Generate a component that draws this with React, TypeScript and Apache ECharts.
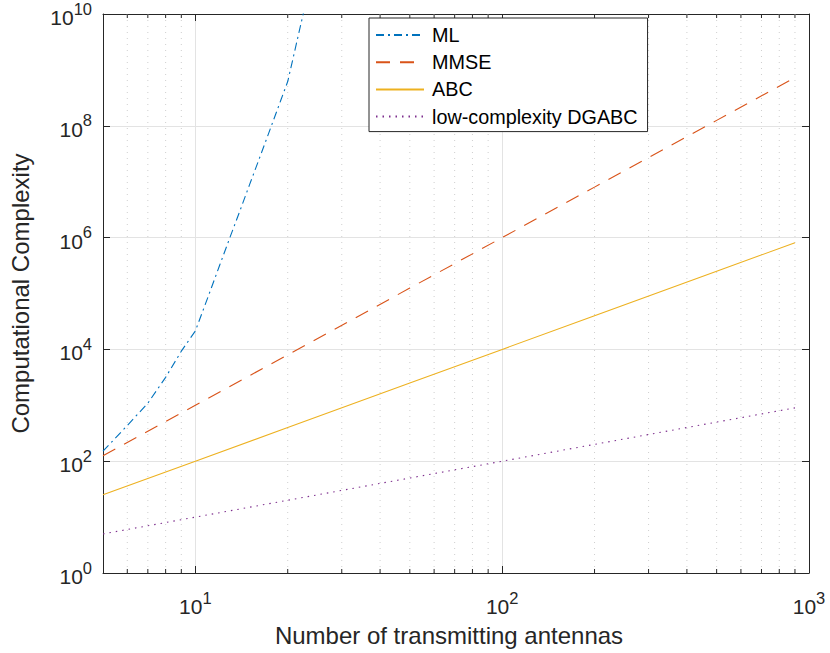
import React, { useEffect, useRef } from "react";
import * as echarts from "echarts";

// Number of transmitting antennas (x) and complexities
const mlN = [5, 6, 7, 8, 9, 10, 11, 12, 13, 14, 15, 16, 17, 18, 19, 20, 25];
const mlValues = [151, 436, 1090, 3160, 9300, 21400, 87000, 3.2e5, 1.05e6, 3.1e6, 8.7e6, 2.24e7, 5.5e7, 1.29e8, 2.9e8, 6.2e8, 1.3e11];

const linN = [5, 10, 20, 50, 100, 200, 500, 900];
const mmseValues = [125, 1000, 8000, 125000, 1e6, 8e6, 1.25e8, 7.29e8];
const abcValues = [25, 100, 400, 2500, 1e4, 4e4, 2.5e5, 8.1e5];
const dgabcValues = [5, 10, 20, 50, 100, 200, 500, 900];

const minorXTicks = [6, 7, 8, 9, 20, 30, 40, 50, 60, 70, 80, 90, 200, 300, 400, 500, 600, 700, 800, 900];

const seriesNames = ["ML", "MMSE", "ABC", "low-complexity DGABC"];
const colors = ["#0072BD", "#D95319", "#EDB120", "#7E2F8E"];

const AXIS = "#262626";
const FONT = "Liberation Sans, Arial, Helvetica, sans-serif";

const pairs = (xs: number[], ys: number[]) => xs.map((x, i) => [x, ys[i]]);

const expLabel = (v: number) => {
  const e = Math.round(Math.log10(v));
  return `{b|10}{e|${e}}`;
};

const richLabel = {
  b: { fontSize: 21, fontFamily: FONT, color: AXIS, verticalAlign: "bottom", lineHeight: 28 },
  e: { fontSize: 16.5, fontFamily: FONT, color: AXIS, verticalAlign: "top", lineHeight: 28 },
};

export default function App() {
  const ref = useRef<HTMLDivElement>(null);
  useEffect(() => {
    if (!ref.current) return;
    const chart = echarts.init(ref.current, undefined, { renderer: "svg" });
    const option: any = {
      animation: false,
      backgroundColor: "#fff",
      grid: { left: 94, right: 21, top: 12, bottom: 80, containLabel: false },
      legend: {
        data: seriesNames,
        orient: "vertical",
        left: 369,
        top: 18,
        padding: [7, 10, 5, 6],
        itemWidth: 48,
        itemHeight: 20,
        itemGap: 7.2,
        backgroundColor: "#fff",
        borderColor: AXIS,
        borderWidth: 1,
        borderRadius: 0,
        itemStyle: { opacity: 0, borderWidth: 0 },
        textStyle: { fontSize: 19.8, fontFamily: FONT, color: "#000", padding: [0, 0, 0, 3] },
      },
      xAxis: [
        {
          type: "log",
          min: 5,
          max: 1000,
          name: "Number of transmitting antennas",
          nameLocation: "middle",
          nameGap: 50,
          nameTextStyle: { fontSize: 24, fontFamily: FONT, color: AXIS, padding: [0, 14, 0, 0] },
          axisLine: { lineStyle: { color: AXIS, width: 1 } },
          axisTick: { inside: true, length: 7, lineStyle: { color: AXIS } },
          axisLabel: { formatter: expLabel, rich: richLabel, margin: 16, showMinLabel: false },
          splitLine: { show: true, lineStyle: { color: "#e3e3e3", width: 1 } },
        },
        {
          type: "log",
          min: 5,
          max: 1000,
          position: "top",
          axisLine: { lineStyle: { color: AXIS, width: 1 } },
          axisTick: { inside: true, length: 7, lineStyle: { color: AXIS } },
          axisLabel: { show: false },
          splitLine: { show: false },
        },
      ],
      yAxis: [
        {
          type: "log",
          min: 1,
          max: 1e10,
          interval: 2,
          name: "Computational Complexity",
          nameLocation: "middle",
          nameGap: 71,
          nameTextStyle: { fontSize: 24, fontFamily: FONT, color: AXIS },
          axisLine: { lineStyle: { color: AXIS, width: 1 } },
          axisTick: { inside: true, length: 7, lineStyle: { color: AXIS } },
          axisLabel: { formatter: expLabel, rich: richLabel, margin: 11 },
          splitLine: { show: true, lineStyle: { color: "#e3e3e3", width: 1 } },
        },
        {
          type: "log",
          min: 1,
          max: 1e10,
          interval: 2,
          position: "right",
          axisLine: { lineStyle: { color: AXIS, width: 1 } },
          axisTick: { inside: true, length: 7, lineStyle: { color: AXIS } },
          axisLabel: { show: false },
          splitLine: { show: false },
        },
      ],
      series: [
        {
          type: "custom",
          name: "minor",
          silent: true,
          z: 1,
          data: minorXTicks.map((v) => [v, 1]),
          renderItem: (params: any, api: any) => {
            const v = api.value(0);
            const top = api.coord([v, 1e10]);
            const bot = api.coord([v, 1]);
            return {
              type: "group",
              children: [
                {
                  type: "line",
                  shape: { x1: top[0], y1: top[1], x2: bot[0], y2: bot[1] },
                  style: { stroke: "#cfcfcf", lineWidth: 1, lineDash: [1, 5] },
                },
                {
                  type: "line",
                  shape: { x1: bot[0], y1: bot[1], x2: bot[0], y2: bot[1] - 4 },
                  style: { stroke: AXIS, lineWidth: 1 },
                },
                {
                  type: "line",
                  shape: { x1: top[0], y1: top[1], x2: top[0], y2: top[1] + 4 },
                  style: { stroke: AXIS, lineWidth: 1 },
                },
              ],
            };
          },
        },
        {
          name: "ML",
          type: "line",
          data: pairs(mlN, mlValues),
          showSymbol: false,
          symbol: "none",
          z: 3,
          lineStyle: { color: colors[0], width: 1.1, type: [8, 4, 2, 4] },
          itemStyle: { color: colors[0] },
        },
        {
          name: "MMSE",
          type: "line",
          data: pairs(linN, mmseValues),
          showSymbol: false,
          symbol: "none",
          z: 3,
          lineStyle: { color: colors[1], width: 1.1, type: [14, 10] },
          itemStyle: { color: colors[1] },
        },
        {
          name: "ABC",
          type: "line",
          data: pairs(linN, abcValues),
          showSymbol: false,
          symbol: "none",
          z: 3,
          lineStyle: { color: colors[2], width: 1.1, type: "solid" },
          itemStyle: { color: colors[2] },
        },
        {
          name: "low-complexity DGABC",
          type: "line",
          data: pairs(linN, dgabcValues),
          showSymbol: false,
          symbol: "none",
          z: 3,
          lineStyle: { color: colors[3], width: 1.1, type: [1.5, 5] },
          itemStyle: { color: colors[3] },
        },
      ],
    };
    chart.setOption(option);
    return () => chart.dispose();
  }, []);
  return (
    <div
      ref={ref}
      style={{ position: "absolute", left: 0, top: 0, width: 830, height: 653 }}
    />
  );
}
